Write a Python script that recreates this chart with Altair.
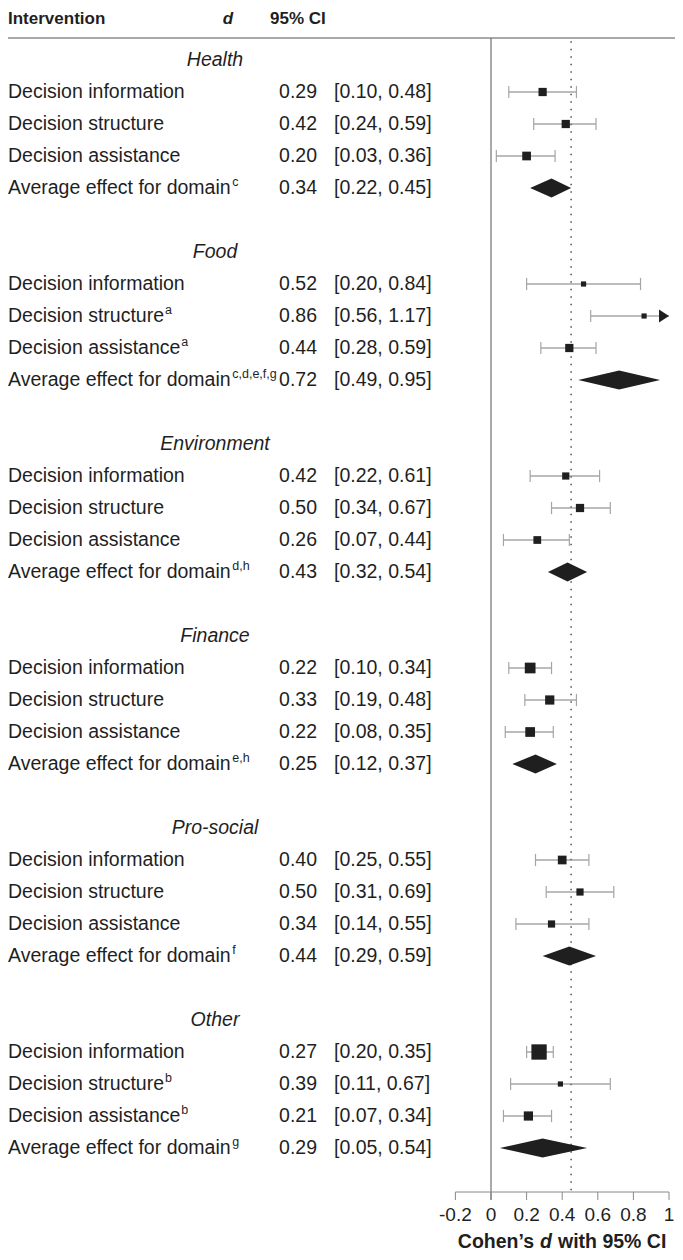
import altair as alt
import pandas as pd

# ---------------- data ----------------
domains = ["Health", "Food", "Environment", "Finance", "Pro-social", "Other"]
interventions = ["Decision information", "Decision structure", "Decision assistance"]
intervention_notes = [
    ["", "", ""],
    ["", "a", "a"],
    ["", "", ""],
    ["", "", ""],
    ["", "", ""],
    ["", "b", "b"],
]
d_values = [[0.29, 0.42, 0.20], [0.52, 0.86, 0.44], [0.42, 0.50, 0.26],
            [0.22, 0.33, 0.22], [0.40, 0.50, 0.34], [0.27, 0.39, 0.21]]
ci_low = [[0.10, 0.24, 0.03], [0.20, 0.56, 0.28], [0.22, 0.34, 0.07],
          [0.10, 0.19, 0.08], [0.25, 0.31, 0.14], [0.20, 0.11, 0.07]]
ci_high = [[0.48, 0.59, 0.36], [0.84, 1.17, 0.59], [0.61, 0.67, 0.44],
           [0.34, 0.48, 0.35], [0.55, 0.69, 0.55], [0.35, 0.67, 0.34]]
# relative study weights (drawn as square area)
weights = [[68, 68, 76], [27, 27, 68], [52, 68, 60],
           [115, 85, 95], [76, 52, 52], [235, 27, 85]]
avg_label = "Average effect for domain"
avg_d = [0.34, 0.72, 0.43, 0.25, 0.44, 0.29]
avg_low = [0.22, 0.49, 0.32, 0.12, 0.29, 0.05]
avg_high = [0.45, 0.95, 0.54, 0.37, 0.59, 0.54]
avg_notes = ["c", "c,d,e,f,g", "d,h", "e,h", "f", "g"]
overall_d = 0.45
x_ticks = [-0.2, 0, 0.2, 0.4, 0.6, 0.8, 1.0]
x_tick_labels = ["-0.2", "0", "0.2", "0.4", "0.6", "0.8", "1"]

# ---------------- layout helpers ----------------
W, H = 667, 1244
ZERO_PX, UNIT_PX = 483, 178
X_MIN_AX, X_MAX_AX = x_ticks[0], x_ticks[-1]
x_scale = alt.Scale(domain=[-ZERO_PX / UNIT_PX, (W - ZERO_PX) / UNIT_PX], nice=False, zero=False)
ROW_PX, ROW0_PX = 32, 52
y_scale = alt.Scale(domain=[-ROW0_PX / ROW_PX, (H - ROW0_PX) / ROW_PX], reverse=True, nice=False, zero=False)

HEADER_ROW = (30 - ROW0_PX) / ROW_PX
AXIS_ROW = (1184 - ROW0_PX) / ROW_PX
TICK_END_ROW = (1192 - ROW0_PX) / ROW_PX
TICKLAB_ROW = (1207 - ROW0_PX) / ROW_PX

FONT = "Liberation Sans, Arial, sans-serif"
INK = "#1f1f1f"
FS = 19.5

# Arial / Liberation Sans advance widths (per 1000 em) for placing superscripts
_ADV = {"A": 667, "D": 722, "v": 500, "e": 556, "r": 333, "a": 556, "g": 556, " ": 278,
        "f": 278, "c": 500, "t": 278, "o": 556, "d": 556, "m": 833, "i": 222, "n": 556,
        "s": 500, "u": 556}


def text_width(s, size):
    return sum(_ADV.get(ch, 556) for ch in s) * size / 1000.0


rows, caps, arrows, titles, diamonds, notes = [], [], [], [], [], []
for g, dom in enumerate(domains):
    base = g * 6
    titles.append({"text": dom, "row": base})
    for i, name in enumerate(interventions):
        r = base + 1 + i
        lo, hi, d = ci_low[g][i], ci_high[g][i], d_values[g][i]
        rows.append({"label": name, "d": d, "lo": lo,
                     "hi_clip": min(hi, X_MAX_AX), "row": r, "w": weights[g][i],
                     "dtxt": f"{d:.2f}", "citxt": f"[{lo:.2f}, {hi:.2f}]"})
        if intervention_notes[g][i]:
            notes.append({"text": intervention_notes[g][i], "row": r,
                          "px": text_width(name, FS) + 1})
        caps.append({"x": lo, "row": r, "y1": r - 0.19, "y2": r + 0.19})
        if hi <= X_MAX_AX:
            caps.append({"x": hi, "row": r, "y1": r - 0.19, "y2": r + 0.19})
        else:
            arrows.append({"x": X_MAX_AX, "row": r})
    r = base + 4
    rows.append({"label": avg_label, "d": avg_d[g],
                 "lo": avg_low[g], "hi_clip": avg_high[g], "row": r, "w": 0,
                 "dtxt": f"{avg_d[g]:.2f}", "citxt": f"[{avg_low[g]:.2f}, {avg_high[g]:.2f}]"})
    notes.append({"text": avg_notes[g], "row": r, "px": text_width(avg_label, FS) + 1})
    for xv, half in [(avg_low[g], 0), (avg_d[g], 0.3), (avg_high[g], 0)]:
        diamonds.append({"dom": dom, "x": xv, "yt": r - half, "yb": r + half})

rows_df = pd.DataFrame(rows)
study_df = rows_df[rows_df["w"] > 0]
caps_df = pd.DataFrame(caps)
arrows_df = pd.DataFrame(arrows)
titles_df = pd.DataFrame(titles)
diam_df = pd.DataFrame(diamonds)
notes_df = pd.DataFrame(notes)
ticks_df = pd.DataFrame({"x": x_ticks, "lab": x_tick_labels})

X = lambda f: alt.X(f, scale=x_scale, axis=None)
Y = lambda f: alt.Y(f, scale=y_scale, axis=None)

one = pd.DataFrame({"a": [0]})

header_line = alt.Chart(one).mark_rule(color="#555555", strokeWidth=1).encode(
    x=alt.value(0), x2=alt.value(W), y=alt.value(30))
HFS = 17
HY = 15.5
h1 = alt.Chart(one).mark_text(text="Intervention", font=FONT, fontSize=HFS, fontWeight="bold",
                              align="left", baseline="alphabetic", color=INK).encode(
    x=alt.value(0), y=alt.value(HY))
h2 = alt.Chart(one).mark_text(text="d", font=FONT, fontSize=HFS, fontWeight="bold", fontStyle="italic",
                              align="center", baseline="alphabetic", color=INK).encode(
    x=alt.value(220), y=alt.value(HY))
h3 = alt.Chart(one).mark_text(text="95% CI", font=FONT, fontSize=HFS, fontWeight="bold",
                              align="left", baseline="alphabetic", color=INK).encode(
    x=alt.value(262), y=alt.value(HY))

vlines = pd.DataFrame({"x": [0.0], "y1": [HEADER_ROW], "y2": [TICK_END_ROW]})
zero_line = alt.Chart(vlines).mark_rule(color="#555555", strokeWidth=1).encode(
    x=X("x:Q"), y=Y("y1:Q"), y2="y2:Q")
dot_df = pd.DataFrame({"x": [overall_d], "y1": [HEADER_ROW + 0.1], "y2": [AXIS_ROW - 0.05]})
dot_line = alt.Chart(dot_df).mark_rule(color="#333333", strokeWidth=1.3, strokeDash=[1.5, 6]).encode(
    x=X("x:Q"), y=Y("y1:Q"), y2="y2:Q")

ci_lines = alt.Chart(study_df).mark_rule(color="#7a7a7a", strokeWidth=1).encode(
    x=X("lo:Q"), x2="hi_clip:Q", y=Y("row:Q"))
cap_lines = alt.Chart(caps_df).mark_rule(color="#a5a5a5", strokeWidth=1.2).encode(
    x=X("x:Q"), y=Y("y1:Q"), y2="y2:Q")
squares = alt.Chart(study_df).mark_square(color="#1f1f1f", opacity=1, filled=True).encode(
    x=X("d:Q"), y=Y("row:Q"), size=alt.Size("w:Q", scale=None, legend=None))
arrow_marks = alt.Chart(arrows_df).mark_point(shape="M-1.54,-1L0,0L-1.54,1Z", filled=True, size=169,
                                               color="#1f1f1f", opacity=1).encode(
    x=X("x:Q"), y=Y("row:Q"))
diamond_marks = alt.Chart(diam_df).mark_area(orient="vertical", color="#1f1f1f", opacity=1).encode(
    x=X("x:Q"), y=alt.Y("yt:Q", scale=y_scale, axis=None, stack=None), y2="yb:Q", detail="dom:N")

title_text = alt.Chart(titles_df).mark_text(font=FONT, fontSize=FS, fontStyle="italic",
                                            align="center", baseline="middle", color=INK).encode(
    x=alt.value(207), y=Y("row:Q"), text="text:N")
label_text = alt.Chart(rows_df).mark_text(font=FONT, fontSize=FS, align="left", baseline="middle",
                                          color=INK).encode(
    x=alt.value(0), y=Y("row:Q"), text="label:N")
note_text = alt.Chart(notes_df).mark_text(font=FONT, fontSize=12.5, align="left", baseline="middle",
                                          dy=-6, color=INK).encode(
    x=alt.X("px:Q", scale=None, axis=None), y=Y("row:Q"), text="text:N")
d_text = alt.Chart(rows_df).mark_text(font=FONT, fontSize=FS, align="right", baseline="middle",
                                      color=INK).encode(
    x=alt.value(309), y=Y("row:Q"), text="dtxt:N")
ci_text = alt.Chart(rows_df).mark_text(font=FONT, fontSize=FS, align="left", baseline="middle",
                                       color=INK).encode(
    x=alt.value(326), y=Y("row:Q"), text="citxt:N")

axis_df = pd.DataFrame({"x1": [X_MIN_AX], "x2": [X_MAX_AX], "row": [AXIS_ROW]})
axis_line = alt.Chart(axis_df).mark_rule(color="#888888", strokeWidth=1).encode(
    x=X("x1:Q"), x2="x2:Q", y=Y("row:Q"))
tick_df = ticks_df.assign(y1=AXIS_ROW, y2=TICK_END_ROW, yl=TICKLAB_ROW)
tick_lines = alt.Chart(tick_df).mark_rule(color="#888888", strokeWidth=1).encode(
    x=X("x:Q"), y=Y("y1:Q"), y2="y2:Q")
tick_labels = alt.Chart(tick_df).mark_text(font=FONT, fontSize=19, align="center", baseline="middle",
                                           color=INK).encode(
    x=X("x:Q"), y=Y("yl:Q"), text="lab:N")

XTY = 1234
xt1 = alt.Chart(one).mark_text(text="Cohen’s", font=FONT, fontSize=19.5, fontWeight="bold",
                               align="right", baseline="middle", color=INK).encode(
    x=alt.value(526), y=alt.value(XTY))
xt2 = alt.Chart(one).mark_text(text="d", font=FONT, fontSize=19.5, fontWeight="bold", fontStyle="italic",
                               align="center", baseline="middle", color=INK).encode(
    x=alt.value(538), y=alt.value(XTY))
xt3 = alt.Chart(one).mark_text(text="with 95% CI", font=FONT, fontSize=19.5, fontWeight="bold",
                               align="left", baseline="middle", color=INK).encode(
    x=alt.value(550), y=alt.value(XTY))

chart = alt.layer(
    header_line, h1, h2, h3, zero_line, dot_line, ci_lines, cap_lines, squares, arrow_marks,
    diamond_marks, title_text, label_text, note_text, d_text, ci_text, axis_line, tick_lines,
    tick_labels, xt1, xt2, xt3,
).properties(
    width=W, height=H, padding=0, autosize=alt.AutoSizeParams(type="none"), background="white"
).configure_view(stroke=None)

chart.save("out.html", embed_options={"renderer": "svg", "actions": False})
